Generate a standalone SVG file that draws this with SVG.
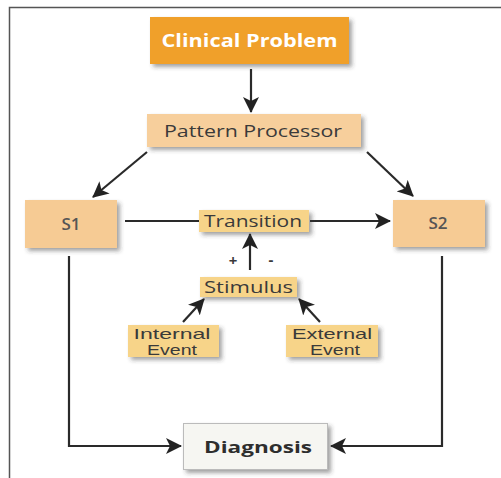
<svg xmlns="http://www.w3.org/2000/svg" width="501" height="478" viewBox="0 0 501 478">
<defs>
<filter id="sh" x="-10%" y="-20%" width="130%" height="160%">
<feDropShadow dx="3" dy="3" stdDeviation="2" flood-color="#333" flood-opacity="0.45"/>
</filter>
<marker id="ahb" viewBox="0 0 16 16" refX="15" refY="8" markerWidth="16" markerHeight="16" markerUnits="userSpaceOnUse" orient="auto">
<path d="M0,0 L16,8 L0,16 L4,8 Z" fill="#222"/>
</marker>
</defs>
<style>
.t{font-family:"Open Sans","Noto Sans",sans-serif;fill:#3a3a3a;text-anchor:middle;dominant-baseline:central}
.ev{font-family:"Liberation Sans",Arial,sans-serif;font-size:14.5px;fill:#3a3a3a}
.ln{fill:none;stroke:#2a2a2a;stroke-width:2.2}
.pe{fill:#F6CB94}
.ye{fill:#F7D489}
</style>
<rect x="0" y="0" width="501" height="478" fill="#fff"/>
<path d="M9.5,478 V7.5 H501" fill="none" stroke="#555" stroke-width="1.5"/>

<g id="connectors">
<line class="ln" x1="251" y1="69" x2="251" y2="112" marker-end="url(#ahb)"/>
<line class="ln" x1="147" y1="152" x2="93" y2="197" marker-end="url(#ahb)"/>
<line class="ln" x1="367" y1="152" x2="413" y2="196" marker-end="url(#ahb)"/>
<line class="ln" x1="125" y1="221" x2="199" y2="221" stroke-width="1.5"/>
<line class="ln" x1="310" y1="221" x2="390" y2="221" marker-end="url(#ahb)"/>
<line class="ln" x1="250" y1="270" x2="250" y2="234" marker-end="url(#ahb)"/>
<line class="ln" x1="183" y1="322" x2="204" y2="299" marker-end="url(#ahb)"/>
<line class="ln" x1="320" y1="322" x2="299" y2="299" marker-end="url(#ahb)"/>
<polyline class="ln" points="69,256 69,446 181,446" marker-end="url(#ahb)"/>
<polyline class="ln" points="442,256 442,446 331,446" marker-end="url(#ahb)"/>
<text class="t" x="233" y="260" font-size="15" font-weight="bold">+</text>
<text class="t" x="271" y="259" font-size="15" font-weight="bold">-</text>
</g>

<g id="clinical-problem">
<rect x="150" y="17" width="199" height="47" fill="#F0A02C" filter="url(#sh)"/>
<text class="t" x="249.5" y="40" font-size="17" font-weight="bold" textLength="176" lengthAdjust="spacingAndGlyphs" style="fill:#fff">Clinical Problem</text>
</g>
<g id="pattern-processor">
<rect x="147" y="114" width="214" height="33" fill="#F7CF9C" filter="url(#sh)"/>
<text class="t" x="253" y="130.5" font-size="17" textLength="178" lengthAdjust="spacingAndGlyphs">Pattern Processor</text>
</g>
<g id="s1">
<rect x="25" y="200" width="92" height="48" class="pe" filter="url(#sh)"/>
<text class="t" x="71" y="223" font-size="17" font-weight="600" style="fill:#555">S1</text>
</g>
<g id="s2">
<rect x="393" y="200" width="92" height="47" class="pe" filter="url(#sh)"/>
<text class="t" x="438" y="222" font-size="17" font-weight="600" style="fill:#555">S2</text>
</g>
<g id="transition">
<rect x="199" y="210" width="110" height="22" class="ye" filter="url(#sh)"/>
<text class="t" x="253" y="221" font-size="16" textLength="98" lengthAdjust="spacingAndGlyphs">Transition</text>
</g>
<g id="stimulus">
<rect x="200" y="277" width="97" height="20" class="ye" filter="url(#sh)"/>
<text class="t" x="248.5" y="287" font-size="16" textLength="89" lengthAdjust="spacingAndGlyphs">Stimulus</text>
</g>
<g id="internal-event">
<rect x="128" y="325" width="91" height="32" class="ye" filter="url(#sh)"/>
<text class="ev" x="172" y="338.5" text-anchor="middle" textLength="77" lengthAdjust="spacingAndGlyphs">Internal</text>
<text class="ev" x="172" y="355" text-anchor="middle" textLength="50" lengthAdjust="spacingAndGlyphs">Event</text>
</g>
<g id="external-event">
<rect x="286" y="325" width="92" height="32" class="ye" filter="url(#sh)"/>
<text class="ev" x="332" y="338.5" text-anchor="middle" textLength="80" lengthAdjust="spacingAndGlyphs">External</text>
<text class="ev" x="335" y="355" text-anchor="middle" textLength="50" lengthAdjust="spacingAndGlyphs">Event</text>
</g>
<g id="diagnosis">
<rect x="183.5" y="423.5" width="144" height="46" fill="#F6F6F2" stroke="#bbb" stroke-width="1" filter="url(#sh)"/>
<text class="t" x="258" y="446" font-size="16.5" font-weight="bold" textLength="108" lengthAdjust="spacingAndGlyphs" style="fill:#2e2e2e">Diagnosis</text>
</g>
</svg>
